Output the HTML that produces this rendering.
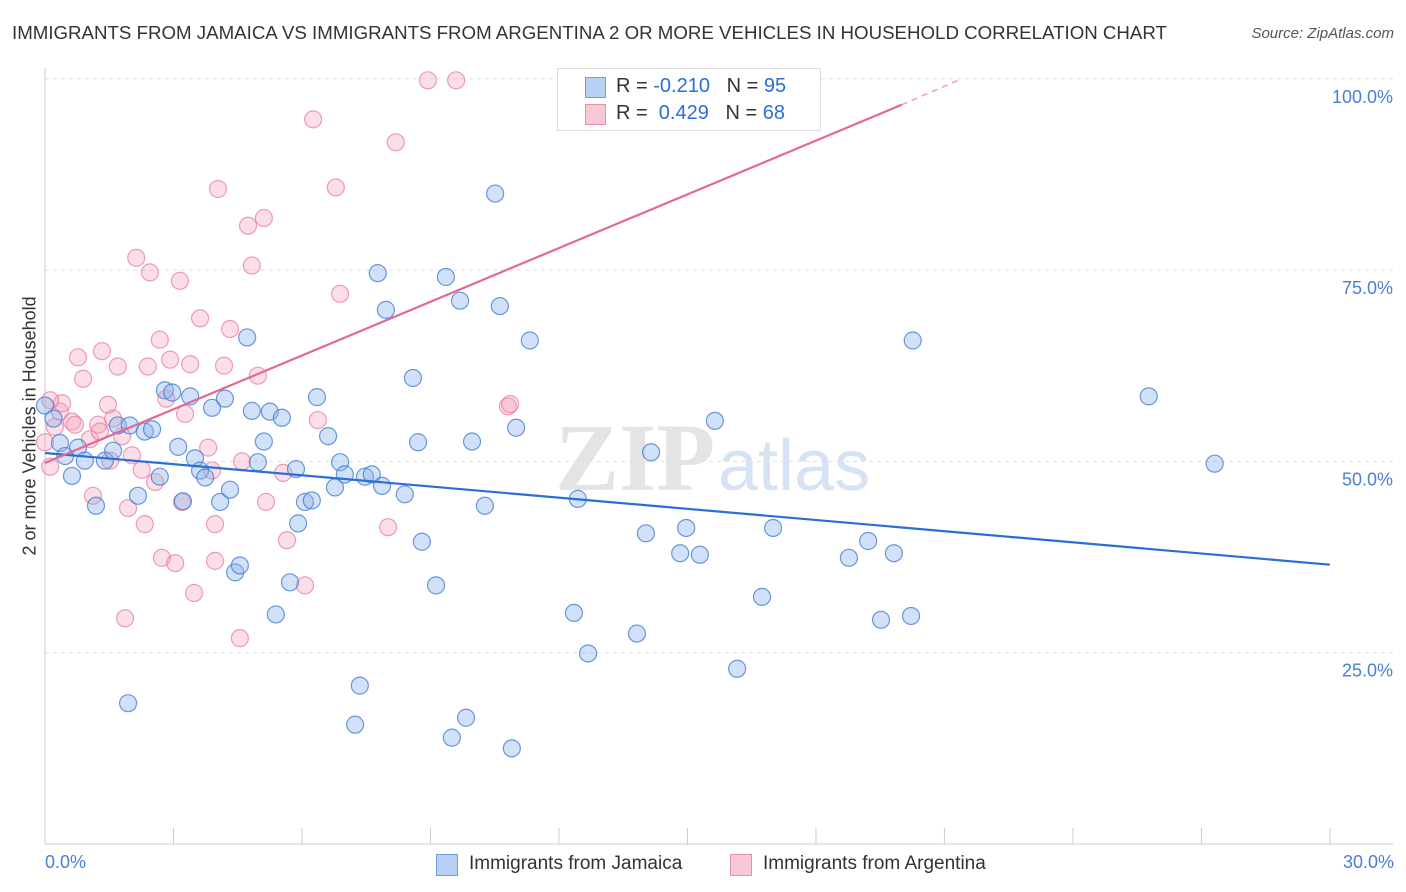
<!DOCTYPE html>
<html><head><meta charset="utf-8"><style>
body{margin:0;background:#fff;font-family:"Liberation Sans",sans-serif}
#wrap{position:relative;width:1406px;height:892px;overflow:hidden}
.t{position:absolute;white-space:nowrap}
</style></head><body>
<div id="wrap">
<div class="t" style="left:12px;top:22px;font-size:18.7px;color:#333">IMMIGRANTS FROM JAMAICA VS IMMIGRANTS FROM ARGENTINA 2 OR MORE VEHICLES IN HOUSEHOLD CORRELATION CHART</div>
<div class="t" style="right:12px;top:25px;font-size:15px;color:#555;font-style:italic">Source: ZipAtlas.com</div>
<svg id="svg" width="1406" height="892" style="position:absolute;left:0;top:0"></svg>
</div>
<script>
const jamX=[0,0.2,0.35,0.63,0.47,0.77,0.93,1.19,1.4,1.59,1.7,1.94,1.98,2.17,2.33,2.5,2.68,2.8,2.97,3.11,3.22,3.39,3.5,3.62,3.74,3.9,4.09,4.2,4.32,4.44,4.55,4.72,4.83,4.97,5.11,5.25,5.39,5.53,5.72,5.86,5.91,6.07,6.23,6.35,6.61,6.77,6.89,7.0,7.24,7.35,7.47,7.63,7.77,7.87,7.96,8.4,8.59,8.71,8.8,9.13,9.36,9.5,9.69,9.83,9.97,10.27,10.51,10.62,10.9,11.0,11.32,12.35,12.44,12.68,13.82,14.03,14.15,14.83,14.97,15.29,15.64,16.16,16.74,17.0,18.77,19.22,19.52,19.82,20.22,20.26,25.77,27.31];
const jamY=[57.3,55.6,52.4,48.1,50.7,51.8,50.1,44.2,50.1,51.4,54.7,18.4,54.7,45.5,53.9,54.2,48.0,59.3,59.0,51.9,44.8,58.5,50.4,48.8,47.9,57.0,44.7,58.2,46.3,35.5,36.4,66.2,56.6,49.9,52.6,56.5,30.0,55.7,34.2,49.0,41.9,44.7,44.9,58.4,53.3,46.6,49.9,48.3,15.6,20.7,48.0,48.3,74.6,46.8,69.8,45.7,60.9,52.5,39.5,33.8,74.1,13.9,71.0,16.5,52.6,44.2,85.0,70.3,12.5,54.4,65.8,30.2,45.1,24.9,27.5,40.6,51.2,38.0,41.3,37.8,55.3,22.9,32.3,41.3,37.4,39.6,29.3,38.0,29.8,65.8,58.5,49.7];
const argX=[0,0.12,0.23,0.35,0.4,0.63,0.7,0.77,0.89,1.05,1.12,1.24,1.33,1.47,1.52,1.59,1.7,1.8,1.87,1.94,2.03,2.13,2.26,2.33,2.4,2.45,2.57,2.68,2.73,2.83,2.92,3.04,3.15,3.2,3.27,3.39,3.48,3.62,3.81,3.9,3.97,3.97,4.04,4.18,4.32,4.55,4.6,4.74,4.83,4.97,5.11,5.16,5.56,5.65,6.07,6.26,6.37,6.79,6.89,8.01,8.19,8.94,9.6,10.81,10.86,17.91,0.12,1.28];
const argY=[52.5,49.3,54.5,56.5,57.6,55.2,54.8,63.6,60.8,52.9,45.5,54.8,64.4,57.4,50.1,55.6,62.4,53.3,29.5,43.9,50.8,76.6,48.9,41.8,62.4,74.7,47.3,65.9,37.4,58.2,63.3,36.7,73.6,44.7,56.2,62.7,32.8,68.7,51.8,48.8,41.8,37.0,85.6,62.5,67.3,26.9,50.0,80.8,75.6,61.2,81.8,44.7,48.5,39.7,33.8,94.7,55.4,85.8,71.9,41.4,91.7,99.8,99.8,57.2,57.5,99.8,58.0,53.9];
const xTickVals=[0,3,6,9,12,15,18,21,24,27,30];
const yTickVals=[25,50,75,100];
const yTickLabels=["25.0%","50.0%","75.0%","100.0%"];
const jamLine=[[0,51.1],[30,36.5]];
const argLine=[[0,49.8],[20,96.6],[21.4,100]];

const X=v=>45+v*42.83, Y=v=>844-v*7.652;
const svg=document.getElementById('svg'), NS='http://www.w3.org/2000/svg';
function mk(tag,attrs,parent){const e=document.createElementNS(NS,tag);for(const k in attrs)e.setAttribute(k,attrs[k]);(parent||svg).appendChild(e);return e;}
yTickVals.forEach((v,i)=>{
 const g=mk('line',{x1:45,x2:1393,y1:Y(v),y2:Y(v),stroke:'#ddd','stroke-dasharray':'4,4'});
 
 
 const t=mk('text',{x:1393,y:Y(v)+24,'text-anchor':'end','font-size':18,fill:'#4a7fd6','font-family':'Liberation Sans'});
 t.textContent=yTickLabels[i];
 
 
});
const ax=mk('line',{x1:45,x2:45,y1:68,y2:844,stroke:'#ccc'});


const axx=mk('line',{x1:45,x2:1393,y1:844,y2:844,stroke:'#ccc'});


xTickVals.forEach(v=>{const l=mk('line',{x1:X(v),x2:X(v),y1:828,y2:844,stroke:'#ccc'});
 
 });
const wm=mk('text',{x:555,y:490,'font-size':96,fill:'#e4e4e4','font-family':'Liberation Serif','font-weight':'bold'});wm.textContent='ZIP';


const wm2=mk('text',{x:718,y:490,'font-size':72,fill:'#d6e3f5','font-family':'Liberation Sans'});wm2.textContent='atlas';


function pts(xs,ys,fill,stroke,name){xs.forEach((x,i)=>{const c=mk('circle',{cx:X(x),cy:Y(ys[i]),r:8.5,fill:fill,stroke:stroke,'stroke-width':1.2});
 
 });}
pts(argX,argY,'rgba(244,160,185,0.35)','rgba(230,120,155,0.7)','argentina-point');
pts(jamX,jamY,'rgba(140,180,235,0.4)','rgba(60,120,210,0.75)','jamaica-point');
const jl=mk('line',{x1:X(jamLine[0][0]),y1:Y(jamLine[0][1]),x2:X(jamLine[1][0]),y2:Y(jamLine[1][1]),stroke:'#2a6fd6','stroke-width':2.2});


const al=mk('line',{x1:X(argLine[0][0]),y1:Y(argLine[0][1]),x2:X(argLine[1][0]),y2:Y(argLine[1][1]),stroke:'#e46894','stroke-width':2.2});


const ad=mk('line',{x1:X(argLine[1][0]),y1:Y(argLine[1][1]),x2:X(argLine[2][0]),y2:Y(argLine[2][1]),stroke:'#e9a0b8','stroke-width':1.5,'stroke-dasharray':'6,5'});


</script>
<div class="t" style="left:-70px;top:445px;transform:rotate(-90deg);font-size:18px;color:#333;width:200px;text-align:center">2 or more Vehicles in Household</div>
<div class="t" style="left:45px;top:852px;font-size:18px;color:#4a7fd6">0.0%</div>
<div class="t" style="right:12px;top:852px;font-size:18px;color:#4a7fd6">30.0%</div>
<div style="position:absolute;left:557px;top:68px;width:262px;height:61px;border:1px solid #ddd;background:#fff;font-size:20px;color:#333">
 <div style="position:absolute;left:27px;top:8px;width:19px;height:19px;background:#b7d0f3;border:1px solid #6d9ee0"></div>
 <div class="t" style="left:58px;top:6px">R = <span style="color:#2a6fd6">-0.210</span>&nbsp;&nbsp;&nbsp;N = <span style="color:#2a6fd6">95</span></div>
 <div style="position:absolute;left:27px;top:35px;width:19px;height:19px;background:#f9c8d6;border:1px solid #e890aa"></div>
 <div class="t" style="left:58px;top:33px">R = &nbsp;<span style="color:#2a6fd6">0.429</span>&nbsp;&nbsp;&nbsp;N = <span style="color:#2a6fd6">68</span></div>
</div>
<div style="position:absolute;left:436px;top:853px;font-size:19px;color:#333">
 <div style="position:absolute;left:0;top:1px;width:20px;height:20px;background:#b7d0f3;border:1px solid #6d9ee0"></div>
 <div class="t" style="left:33px;top:0">Immigrants from Jamaica</div>
 <div style="position:absolute;left:294px;top:1px;width:20px;height:20px;background:#f9c8d6;border:1px solid #e890aa"></div>
 <div class="t" style="left:327px;top:0">Immigrants from Argentina</div>
</div>
</body></html>
